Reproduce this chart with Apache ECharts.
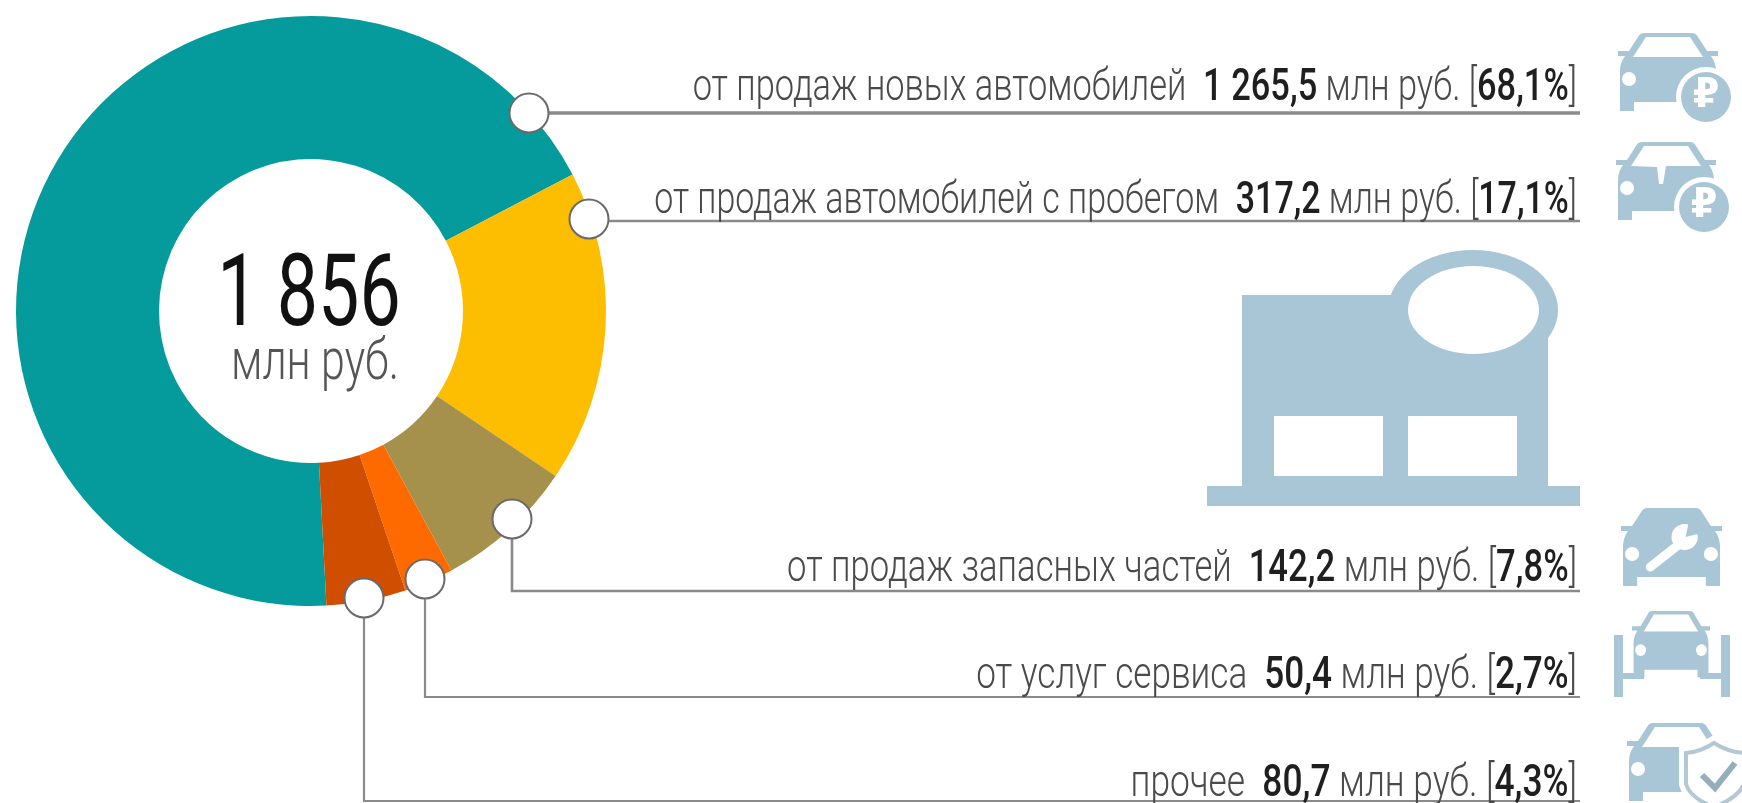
<!DOCTYPE html>
<html><head><meta charset="utf-8">
<style>html,body{margin:0;padding:0;background:#fff}#c{width:1742px;height:803px}</style>
<script src="https://cdn.jsdelivr.net/npm/echarts@6/dist/echarts.min.js"></script>
</head><body><div id="c"></div>
<script>
const categories = ['от продаж новых автомобилей','от продаж автомобилей с пробегом','от продаж запасных частей','от услуг сервиса','прочее'];
const values = [1265.5, 317.2, 142.2, 50.4, 80.7];
const valueLabels = ['1 265,5','317,2','142,2','50,4','80,7'];
const percentLabels = ['68,1%','17,1%','7,8%','2,7%','4,3%'];
const colors = ['#059a9b','#fdbd00','#a5904c','#ff6a00','#d04e00'];
const totalLabel = '1 856';
const unitLabel = 'млн руб.';

const BLUE = '#a8c6d6', LINE = '#8a8a8a', FONT = 'Roboto, "Noto Sans", sans-serif';
const rightEnd = 1580;
const leaders = [
  {mx:529,my:113,ly:113,ty:89,sx:.765,lw:3.5},
  {mx:589,my:219,ly:221,ty:202,sx:.755,lw:2.6},
  {mx:512,my:519,ly:591,ty:569.5,sx:.77,lw:2.6},
  {mx:425,my:579,ly:697,ty:677,sx:.78,lw:2.2},
  {mx:364,my:598,ly:801,ty:785,sx:.785,lw:2.2}
];
const g = [];
leaders.forEach((l,i)=>{
  const pts = Math.abs(l.my-l.ly)<4
    ? [[l.mx,l.ly],[rightEnd,l.ly]]
    : [[l.mx,l.my],[l.mx,l.ly],[rightEnd,l.ly]];
  g.push({type:'polyline',silent:true,z:5,shape:{points:pts},style:{stroke:LINE,lineWidth:l.lw,fill:null}});
  g.push({type:'circle',silent:true,z:6,shape:{cx:l.mx,cy:l.my,r:19.5},style:{fill:'#fff',stroke:'#6a6a6a',lineWidth:2}});
  g.push({type:'text',silent:true,z:7,x:1577,y:l.ty,scaleX:l.sx,style:{
    text:`{a|${categories[i]}  }{b|${valueLabels[i]}}{a| млн руб. [}{b|${percentLabels[i]}}{a|]}`,
    align:'right',verticalAlign:'middle',
    rich:{
      a:{fontFamily:FONT,fontSize:45,fontWeight:300,fill:'#4a4a4a'},
      b:{fontFamily:FONT,fontSize:45,fontWeight:500,fill:'#1f1f1f'}
    }}});
});
g.push({type:'text',silent:true,z:7,x:309,y:300,scaleX:0.735,style:{text:totalLabel,align:'center',verticalAlign:'middle',fontFamily:FONT,fontSize:100,fontWeight:400,fill:'#111'}});
g.push({type:'text',silent:true,z:7,x:315,y:364,scaleX:0.74,style:{text:unitLabel,align:'center',verticalAlign:'middle',fontFamily:FONT,fontSize:58,fontWeight:300,fill:'#555'}});

const bs = {fill:BLUE};
g.push({type:'ellipse',silent:true,shape:{cx:1473,cy:310,rx:85,ry:60},style:bs});
g.push({type:'rect',silent:true,shape:{x:1242,y:295,width:306,height:195},style:bs});
g.push({type:'rect',silent:true,shape:{x:1207,y:486,width:373,height:20},style:bs});
g.push({type:'ellipse',silent:true,z:2,shape:{cx:1473.5,cy:310,rx:65.5,ry:44},style:{fill:'#fff'}});
g.push({type:'rect',silent:true,z:2,shape:{x:1274,y:416,width:109,height:60},style:{fill:'#fff'}});
g.push({type:'rect',silent:true,z:2,shape:{x:1408,y:416,width:109,height:60},style:{fill:'#fff'}});

const carBody = 'M26 0 L74 0 Q78 0 80 4 L89 18 L100 18 L100 23 L93 23 Q98 30 98 38 L98 78 L84 78 L84 69 L16 69 L16 78 L2 78 L2 38 Q2 30 7 23 L0 23 L0 18 L11 18 L20 4 Q22 0 26 0 Z';
const glass = 'M28 4 L72 4 L85 24 L15 24 Z';
const glass2 = 'M28 4 L72 4 L85 24 L50 24 L47 42 L43 42 L41 25 L15 24 Z';
const shield = 'M1714 743 Q1728 752 1744 753 L1744 784 Q1738 798 1714 807 Q1690 798 1686 784 L1686 753 Q1700 752 1714 743 Z';
echarts.graphic.registerShape('carBody', echarts.graphic.extendPath(carBody));
echarts.graphic.registerShape('carGlass', echarts.graphic.extendPath(glass));
echarts.graphic.registerShape('carGlass2', echarts.graphic.extendPath(glass2));
echarts.graphic.registerShape('shieldIcon', echarts.graphic.extendPath(shield));

function car(x,y,w,h,opts){
  opts = opts||{};
  const ch = [
    {type:'carBody',silent:true,style:{fill:BLUE}},
    {type:'circle',silent:true,shape:{cx:11,cy:46,r:7},style:{fill:'#fff'}},
    {type:'circle',silent:true,shape:{cx:89,cy:46,r:7},style:{fill:'#fff'}}
  ];
  if(!opts.solid) ch.push({type:opts.glass||'carGlass',silent:true,style:{fill:'#fff'}});
  (opts.extra||[]).forEach(e=>ch.push(e));
  g.push({type:'group',silent:true,x,y,scaleX:w/100,scaleY:h/80,z:3,children:ch});
}
function badge(cx,cy){
  g.push({type:'circle',silent:true,z:4,shape:{cx,cy,r:30},style:{fill:'#fff'}});
  g.push({type:'circle',silent:true,z:4,shape:{cx,cy,r:25},style:{fill:BLUE}});
  g.push({type:'text',silent:true,z:5,x:cx,y:cy,scaleX:.95,style:{text:'₽',align:'center',verticalAlign:'middle',fontFamily:'"DejaVu Sans"',fontSize:40,fontWeight:700,fill:'#fff'}});
}
car(1618,33,100,80); badge(1706,97);
car(1616,142,100,80,{glass:'carGlass2'}); badge(1704,207);
car(1621,508,101,80,{solid:true,extra:[
  {type:'polyline',silent:true,shape:{points:[[29,59],[58,36]]},style:{stroke:'#fff',lineWidth:9,lineCap:'round',fill:null}},
  {type:'circle',silent:true,shape:{cx:63,cy:29,r:13},style:{fill:'#fff'}},
  {type:'polygon',silent:true,shape:{points:[[64,29],[68,10],[84,24]]},style:{fill:BLUE}}
]});
g.push({type:'rect',silent:true,shape:{x:1614,y:635,width:9,height:62},style:bs});
g.push({type:'rect',silent:true,shape:{x:1721,y:635,width:9,height:62},style:bs});
g.push({type:'rect',silent:true,shape:{x:1614,y:673,width:30,height:6},style:bs});
g.push({type:'rect',silent:true,shape:{x:1700,y:673,width:30,height:6},style:bs});
car(1632,611,78,68);
car(1627,723,100,80,{});
g.push({type:'shieldIcon',silent:true,z:4,style:{fill:'#fff',stroke:'#fff',lineWidth:14}});
g.push({type:'shieldIcon',silent:true,z:4,style:{fill:'#fff',stroke:'#b3c8d3',lineWidth:4}});
g.push({type:'polyline',silent:true,z:5,shape:{points:[[1702,775],[1715,788],[1735,763]]},style:{stroke:'#94aebc',lineWidth:6,fill:null}});

const chart = echarts.init(document.getElementById('c'),null,{renderer:'canvas'});
chart.setOption({
  animation:false,
  backgroundColor:'#fff',
  series:[{
    type:'pie',silent:true,center:[311,311],radius:[152,295],startAngle:-87,clockwise:true,
    label:{show:false},labelLine:{show:false},
    data:categories.map((name,i)=>({name,value:values[i],itemStyle:{color:colors[i]}}))
  }],
  graphic:{elements:g}
});
</script></body></html>
